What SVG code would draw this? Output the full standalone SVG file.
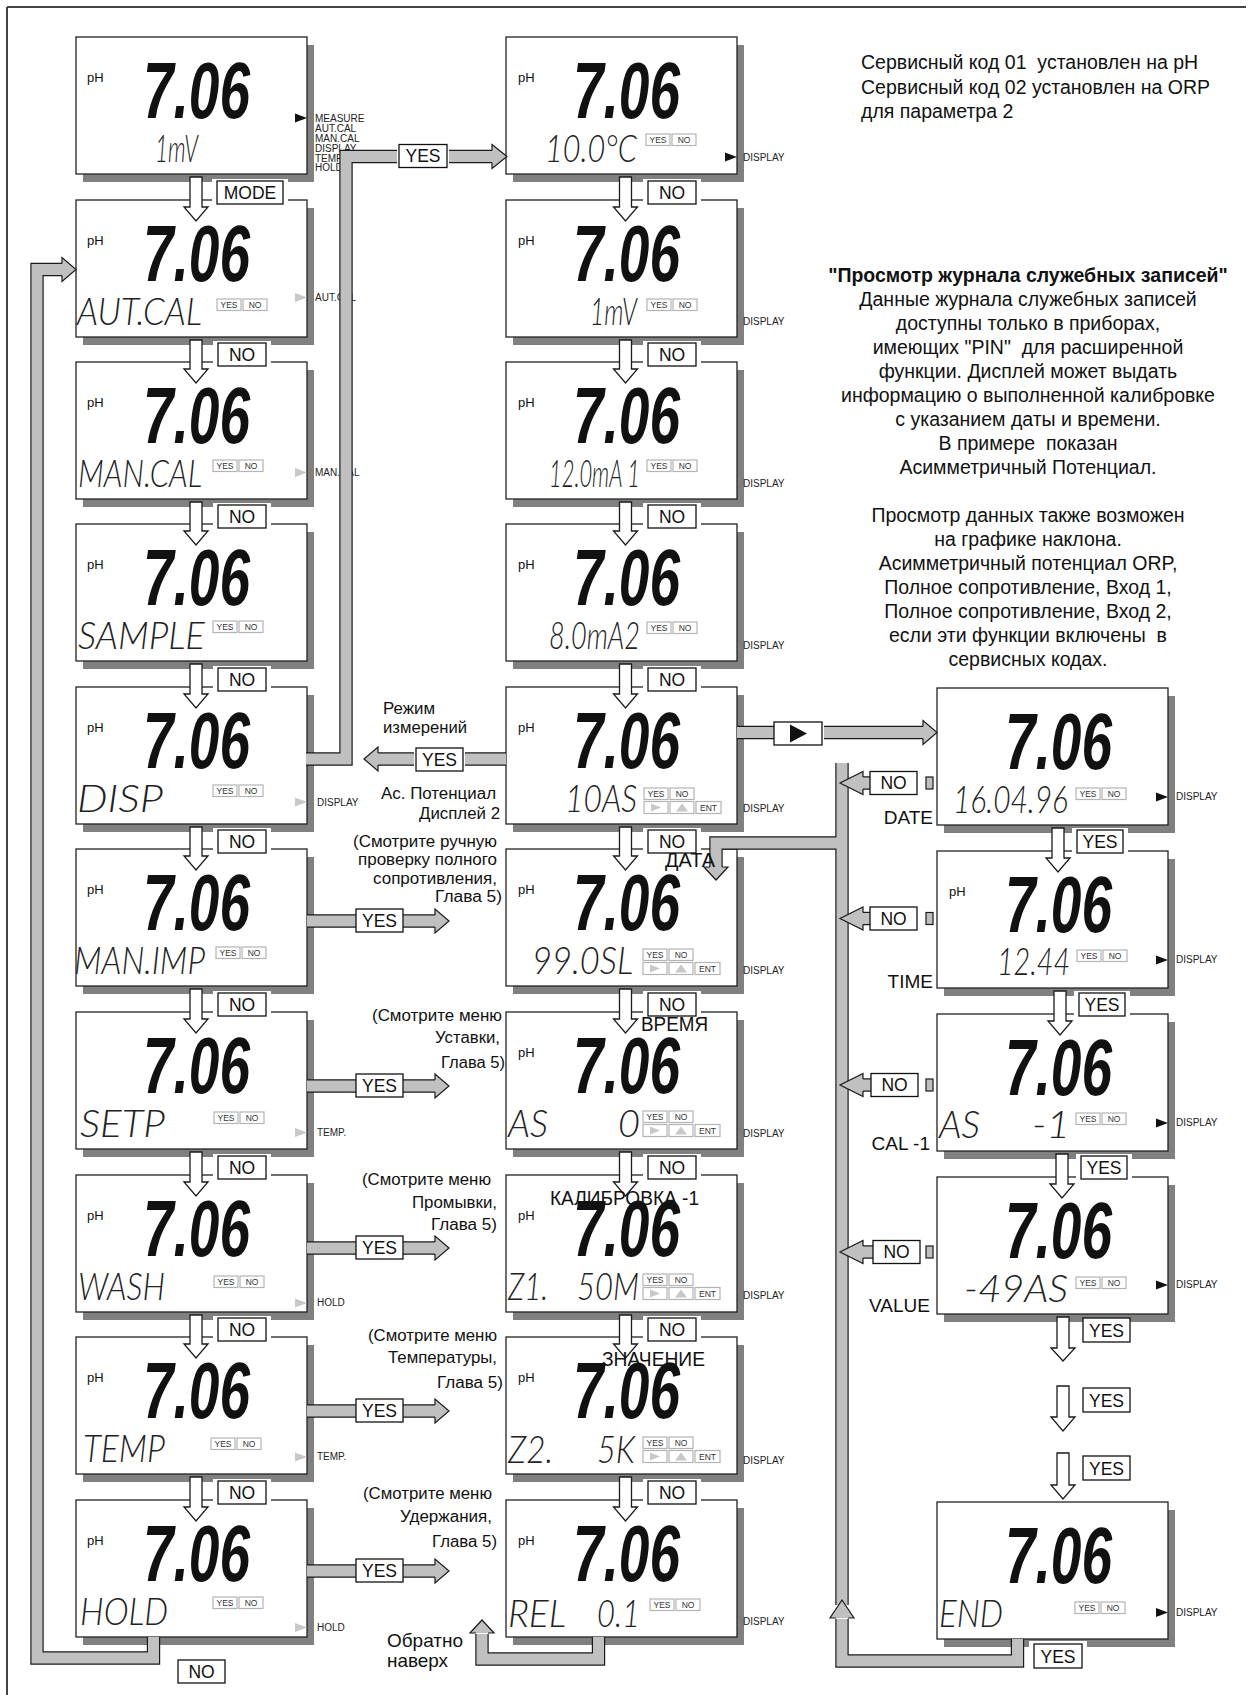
<svg xmlns="http://www.w3.org/2000/svg" width="1252" height="1695" viewBox="0 0 1252 1695">
<style>
.big{font-family:'Liberation Sans',Arial,sans-serif;font-weight:bold;font-style:italic;font-size:80px;fill:#111}
.seg{font-family:Lato,'DejaVu Sans',sans-serif;font-weight:300;font-style:italic;font-size:38px;fill:#222}
.ph{font-family:'Liberation Sans',Arial,sans-serif;font-size:13px;fill:#111}
.side{font-family:'Liberation Sans',Arial,sans-serif;font-size:10px;fill:#222}
.sb{fill:#fff;stroke:#b4b4b4;stroke-width:1.2}
.st{font-family:'Liberation Sans',Arial,sans-serif;font-size:8.5px;fill:#333;text-anchor:middle}
.bo{fill:none;stroke:#1a1a1a;stroke-width:13.4;stroke-linejoin:miter}
.bi{fill:none;stroke:#c0c0c0;stroke-width:11;stroke-linejoin:miter}
.hd{fill:#c0c0c0;stroke:#1a1a1a;stroke-width:1.2;stroke-linejoin:miter}
.wa{fill:#fff;stroke:#1a1a1a;stroke-width:1.3;stroke-linejoin:miter}
.lb{fill:#fff;stroke:#111;stroke-width:1.3}
.pad{fill:#fff;stroke:none}
.lt{font-family:'Liberation Sans',Arial,sans-serif;font-size:17.5px;fill:#111;text-anchor:middle}
.note{font-family:'Liberation Sans',Arial,sans-serif;font-size:16px;fill:#111}
.info{font-family:'Liberation Sans',Arial,sans-serif;font-size:19.5px;fill:#111;white-space:pre}
.ctr{text-anchor:middle}
.ov{font-family:'Liberation Sans',Arial,sans-serif;font-size:19.5px;fill:#111}
.rl{font-family:'Liberation Sans',Arial,sans-serif;font-size:19px;fill:#111;text-anchor:end}
</style>
<defs>
<g id="lcd"><rect x="7" y="8" width="231" height="137" fill="#808080"/><rect x="0" y="0" width="231" height="137" fill="#fff" stroke="#222" stroke-width="1.3"/></g>
<g id="yn"><rect x="0" y="0" width="24" height="11.5" class="sb"/><rect x="26" y="0" width="24" height="11.5" class="sb"/><text x="12" y="9.2" class="st">YES</text><text x="38" y="9.2" class="st">NO</text></g>
<g id="yn2"><use href="#yn"/><rect x="0" y="13.5" width="24" height="12" class="sb"/><polygon points="7,15.5 17,19.5 7,23.5" fill="#c8c8c8"/><rect x="26" y="13.5" width="24" height="12" class="sb"/><polygon points="32,23.5 38,15.5 44,23.5" fill="#c8c8c8"/><rect x="52" y="13.5" width="25" height="12" class="sb"/><text x="64.5" y="22.8" class="st">ENT</text></g>
<polygon id="triK" points="-12,-4.5 0,0 -12,4.5" fill="#111"/>
<polygon id="triG" points="-12,-4.5 0,0 -12,4.5" fill="#c8c8c8"/>
<path id="b1" d="M306,759 H346 V156.5 H397 M449,156.5 H493"/>
<path id="b2" d="M153.5,1637 V1658 H37 V269.5 H63"/>
<path id="b3" d="M506,759 H465 M414,759 H377"/>
<path id="b4" d="M737,732.5 H774 M824,732.5 H924"/>
<path id="b6" d="M842,763 V1605 M1017.5,1639 V1661 H842 V1619"/>
<path id="b7" d="M842,843 H716 V868"/>
<path id="b8" d="M598.5,1637 V1659 H482 V1634"/>
<path id="b9" d="M307,921 H356 M403,921 H436 M307,1086 H356 M403,1086 H436 M307,1248 H356 M403,1248 H436 M307,1411 H356 M403,1411 H436 M307,1571 H356 M403,1571 H436"/>
<path id="b5" d="M870,783 H862 M870,918.5 H862 M871,1085 H862 M873,1252 H862"/>
</defs>

<rect width="1252" height="1695" fill="#fff"/>
<path d="M7,7 H1246 M7,7 V1695" fill="none" stroke="#444" stroke-width="2"/>

<g id="L1"><use href="#lcd" x="76" y="37"/><text class="ph" x="87" y="82">pH</text><text class="big" x="143" y="118" textLength="107" lengthAdjust="spacingAndGlyphs">7.06</text><text class="seg" x="155" y="162" textLength="43" lengthAdjust="spacingAndGlyphs">1mV</text><use href="#triK" x="307" y="118"/>
<text class="side" x="315" y="122">MEASURE</text><text class="side" x="315" y="132">AUT.CAL</text><text class="side" x="315" y="142">MAN.CAL</text><text class="side" x="315" y="152">DISPLAY</text><text class="side" x="315" y="162">TEMP.</text><text class="side" x="315" y="171">HOLD</text></g>
<g id="L2"><use href="#lcd" x="76" y="200"/><text class="ph" x="87" y="245">pH</text><text class="big" x="143" y="281" textLength="107" lengthAdjust="spacingAndGlyphs">7.06</text><text class="seg" x="77" y="325" textLength="125" lengthAdjust="spacingAndGlyphs">AUT.CAL</text><use href="#yn" x="217" y="299"/><use href="#triG" x="307" y="297.5"/><text class="side" x="315" y="301">AUT.CAL</text></g>
<g id="L3"><use href="#lcd" x="76" y="362"/><text class="ph" x="87" y="407">pH</text><text class="big" x="143" y="443" textLength="107" lengthAdjust="spacingAndGlyphs">7.06</text><text class="seg" x="78" y="487" textLength="124" lengthAdjust="spacingAndGlyphs">MAN.CAL</text><use href="#yn" x="213" y="460"/><use href="#triG" x="307" y="472.5"/><text class="side" x="315" y="476">MAN.CAL</text></g>
<g id="L4"><use href="#lcd" x="76" y="524"/><text class="ph" x="87" y="569">pH</text><text class="big" x="143" y="605" textLength="107" lengthAdjust="spacingAndGlyphs">7.06</text><text class="seg" x="78" y="649" textLength="127" lengthAdjust="spacingAndGlyphs">SAMPLE</text><use href="#yn" x="213" y="621"/></g>
<g id="L5"><use href="#lcd" x="76" y="687"/><text class="ph" x="87" y="732">pH</text><text class="big" x="143" y="768" textLength="107" lengthAdjust="spacingAndGlyphs">7.06</text><text class="seg" x="77" y="812" textLength="86" lengthAdjust="spacingAndGlyphs">DISP</text><use href="#yn" x="213" y="785"/><use href="#triG" x="307" y="802"/><text class="side" x="317" y="806">DISPLAY</text></g>
<g id="L6"><use href="#lcd" x="76" y="849"/><text class="ph" x="87" y="894">pH</text><text class="big" x="143" y="930" textLength="107" lengthAdjust="spacingAndGlyphs">7.06</text><text class="seg" x="74" y="974" textLength="131" lengthAdjust="spacingAndGlyphs">MAN.IMP</text><use href="#yn" x="216" y="947"/></g>
<g id="L7"><use href="#lcd" x="76" y="1012"/><text class="big" x="143" y="1093" textLength="107" lengthAdjust="spacingAndGlyphs">7.06</text><text class="seg" x="80" y="1137" textLength="85" lengthAdjust="spacingAndGlyphs">SETP</text><use href="#yn" x="214" y="1112"/><use href="#triG" x="307" y="1132.5"/><text class="side" x="317" y="1136">TEMP.</text></g>
<g id="L8"><use href="#lcd" x="76" y="1175"/><text class="ph" x="87" y="1220">pH</text><text class="big" x="143" y="1256" textLength="107" lengthAdjust="spacingAndGlyphs">7.06</text><text class="seg" x="78" y="1300" textLength="87" lengthAdjust="spacingAndGlyphs">WASH</text><use href="#yn" x="214" y="1276"/><use href="#triG" x="307" y="1303"/><text class="side" x="317" y="1306">HOLD</text></g>
<g id="L9"><use href="#lcd" x="76" y="1337"/><text class="ph" x="87" y="1382">pH</text><text class="big" x="143" y="1418" textLength="107" lengthAdjust="spacingAndGlyphs">7.06</text><text class="seg" x="83" y="1462" textLength="82" lengthAdjust="spacingAndGlyphs">TEMP</text><use href="#yn" x="211" y="1438"/><use href="#triG" x="307" y="1457"/><text class="side" x="317" y="1460">TEMP.</text></g>
<g id="L10"><use href="#lcd" x="76" y="1500"/><text class="ph" x="87" y="1545">pH</text><text class="big" x="143" y="1581" textLength="107" lengthAdjust="spacingAndGlyphs">7.06</text><text class="seg" x="80" y="1625" textLength="88" lengthAdjust="spacingAndGlyphs">HOLD</text><use href="#yn" x="213" y="1597"/><use href="#triG" x="307" y="1627.5"/><text class="side" x="317" y="1631">HOLD</text></g>

<g id="M1"><use href="#lcd" x="506" y="37"/><text class="ph" x="518" y="82">pH</text><text class="big" x="573" y="118" textLength="107" lengthAdjust="spacingAndGlyphs">7.06</text><text class="seg" x="545" y="162" textLength="92" lengthAdjust="spacingAndGlyphs">10.0°C</text><use href="#yn" x="646" y="134"/><use href="#triK" x="737" y="157"/><text class="side" x="743" y="161">DISPLAY</text></g>
<g id="M2"><use href="#lcd" x="506" y="200"/><text class="ph" x="518" y="245">pH</text><text class="big" x="573" y="281" textLength="107" lengthAdjust="spacingAndGlyphs">7.06</text><text class="seg" x="590" y="325" textLength="47" lengthAdjust="spacingAndGlyphs">1mV</text><use href="#yn" x="647" y="299"/><text class="side" x="743" y="325">DISPLAY</text></g>
<g id="M3"><use href="#lcd" x="506" y="362"/><text class="ph" x="518" y="407">pH</text><text class="big" x="573" y="443" textLength="107" lengthAdjust="spacingAndGlyphs">7.06</text><text class="seg" x="549" y="487" textLength="91" lengthAdjust="spacingAndGlyphs">12.0mA 1</text><use href="#yn" x="647" y="460"/><text class="side" x="743" y="487">DISPLAY</text></g>
<g id="M4"><use href="#lcd" x="506" y="524"/><text class="ph" x="518" y="569">pH</text><text class="big" x="573" y="605" textLength="107" lengthAdjust="spacingAndGlyphs">7.06</text><text class="seg" x="549" y="649" textLength="91" lengthAdjust="spacingAndGlyphs">8.0mA2</text><use href="#yn" x="647" y="622"/><text class="side" x="743" y="649">DISPLAY</text></g>
<g id="M5"><use href="#lcd" x="506" y="687"/><text class="ph" x="518" y="732">pH</text><text class="big" x="573" y="768" textLength="107" lengthAdjust="spacingAndGlyphs">7.06</text><text class="seg" x="565" y="812" textLength="72" lengthAdjust="spacingAndGlyphs">10AS</text><use href="#yn2" x="644" y="788"/><text class="side" x="743" y="812">DISPLAY</text></g>
<g id="M6"><use href="#lcd" x="506" y="849"/><text class="ph" x="518" y="894">pH</text><text class="big" x="573" y="930" textLength="107" lengthAdjust="spacingAndGlyphs">7.06</text><text class="seg" x="532" y="974" textLength="101" lengthAdjust="spacingAndGlyphs">99.0SL</text><use href="#yn2" x="643" y="949"/><text class="side" x="743" y="974">DISPLAY</text></g>
<g id="M7"><use href="#lcd" x="506" y="1012"/><text class="ph" x="518" y="1057">pH</text><text class="big" x="573" y="1093" textLength="107" lengthAdjust="spacingAndGlyphs">7.06</text><text class="seg" x="508" y="1137" textLength="40" lengthAdjust="spacingAndGlyphs">AS</text><text class="seg" x="618" y="1137" textLength="22" lengthAdjust="spacingAndGlyphs">0</text><use href="#yn2" x="643" y="1111"/><text class="side" x="743" y="1137">DISPLAY</text></g>
<g id="M8"><use href="#lcd" x="506" y="1175"/><text class="ph" x="518" y="1220">pH</text><text class="big" x="573" y="1256" textLength="107" lengthAdjust="spacingAndGlyphs">7.06</text><text class="seg" x="508" y="1300" textLength="40" lengthAdjust="spacingAndGlyphs">Z1.</text><text class="seg" x="577" y="1300" textLength="62" lengthAdjust="spacingAndGlyphs">50M</text><use href="#yn2" x="643" y="1274"/><text class="side" x="743" y="1299">DISPLAY</text></g>
<g id="M9"><use href="#lcd" x="506" y="1337"/><text class="ph" x="518" y="1382">pH</text><text class="big" x="573" y="1418" textLength="107" lengthAdjust="spacingAndGlyphs">7.06</text><text class="seg" x="508" y="1463" textLength="45" lengthAdjust="spacingAndGlyphs">Z2.</text><text class="seg" x="597" y="1463" textLength="38" lengthAdjust="spacingAndGlyphs">5K</text><use href="#yn2" x="643" y="1437"/><text class="side" x="743" y="1464">DISPLAY</text></g>
<g id="M10"><use href="#lcd" x="506" y="1500"/><text class="ph" x="518" y="1545">pH</text><text class="big" x="573" y="1581" textLength="107" lengthAdjust="spacingAndGlyphs">7.06</text><text class="seg" x="508" y="1627" textLength="58" lengthAdjust="spacingAndGlyphs">REL</text><text class="seg" x="597" y="1627" textLength="43" lengthAdjust="spacingAndGlyphs">0.1</text><use href="#yn" x="650" y="1599"/><text class="side" x="743" y="1625">DISPLAY</text></g>

<g id="R1"><use href="#lcd" x="937" y="688"/><text class="big" x="1005" y="769" textLength="107" lengthAdjust="spacingAndGlyphs">7.06</text><text class="seg" x="953" y="813" textLength="115" lengthAdjust="spacingAndGlyphs">16.04.96</text><use href="#yn" x="1076" y="788"/><use href="#triK" x="1168" y="797"/><text class="side" x="1176" y="800">DISPLAY</text></g>
<g id="R2"><use href="#lcd" x="937" y="851"/><text class="ph" x="949" y="896">pH</text><text class="big" x="1005" y="932" textLength="107" lengthAdjust="spacingAndGlyphs">7.06</text><text class="seg" x="997" y="975" textLength="73" lengthAdjust="spacingAndGlyphs">12.44</text><use href="#yn" x="1077" y="950"/><use href="#triK" x="1168" y="960"/><text class="side" x="1176" y="963">DISPLAY</text></g>
<g id="R3"><use href="#lcd" x="937" y="1014"/><text class="big" x="1005" y="1095" textLength="107" lengthAdjust="spacingAndGlyphs">7.06</text><text class="seg" x="939" y="1138" textLength="41" lengthAdjust="spacingAndGlyphs">AS</text><text class="seg" x="1032" y="1138" textLength="38" lengthAdjust="spacingAndGlyphs">-1</text><use href="#yn" x="1076" y="1113"/><use href="#triK" x="1168" y="1123"/><text class="side" x="1176" y="1126">DISPLAY</text></g>
<g id="R4"><use href="#lcd" x="937" y="1177"/><text class="big" x="1005" y="1258" textLength="107" lengthAdjust="spacingAndGlyphs">7.06</text><text class="seg" x="964" y="1302" textLength="104" lengthAdjust="spacingAndGlyphs">-49AS</text><use href="#yn" x="1076" y="1277"/><use href="#triK" x="1168" y="1285"/><text class="side" x="1176" y="1288">DISPLAY</text></g>
<g id="R5"><use href="#lcd" x="937" y="1502"/><text class="big" x="1005" y="1583" textLength="107" lengthAdjust="spacingAndGlyphs">7.06</text><text class="seg" x="939" y="1627" textLength="64" lengthAdjust="spacingAndGlyphs">END</text><use href="#yn" x="1075" y="1602"/><use href="#triK" x="1168" y="1612.5"/><text class="side" x="1176" y="1616">DISPLAY</text></g>

<g id="connectors">
<use href="#b1" class="bo"/><use href="#b2" class="bo"/><use href="#b3" class="bo"/><use href="#b4" class="bo"/><use href="#b6" class="bo"/><use href="#b7" class="bo"/><use href="#b8" class="bo"/><use href="#b9" class="bo"/><use href="#b5" class="bo"/>
<use href="#b1" class="bi"/><use href="#b2" class="bi"/><use href="#b3" class="bi"/><use href="#b4" class="bi"/><use href="#b6" class="bi"/><use href="#b7" class="bi"/><use href="#b8" class="bi"/><use href="#b9" class="bi"/><use href="#b5" class="bi"/>
<path class="hd" d="M492,150.5 V144.5 L507,156.5 L492,168.5 V162.5"/>
<path class="hd" d="M62,263.5 V257.5 L76,269.5 L62,281.5 V275.5"/>
<path class="hd" d="M378,753 V747 L364,759 L378,771 V765"/>
<path class="hd" d="M923,726.5 V720.5 L937,732.5 L923,744.5 V738.5"/>
<path class="hd" d="M863,777 V771.5 L840,783 L863,794.5 V789"/>
<path class="hd" d="M863,912.5 V907 L840,918.5 L863,930 V924.5"/>
<path class="hd" d="M863,1079 V1073.5 L840,1085 L863,1096.5 V1091"/>
<path class="hd" d="M863,1246 V1240.5 L840,1252 L863,1263.5 V1258"/>
<path class="hd" d="M836,1618 H830 L842,1600 L854,1618 H848"/>
<path class="hd" d="M710,867 H704 L716,880 L728,867 H722"/>
<path class="hd" d="M476,1633 H470 L482,1620 L494,1633 H488"/>
<path class="hd" d="M435,915 V909 L449,921 L435,933 V927"/>
<path class="hd" d="M435,1080 V1074 L449,1086 L435,1098 V1092"/>
<path class="hd" d="M435,1242 V1236 L449,1248 L435,1260 V1254"/>
<path class="hd" d="M435,1405 V1399 L449,1411 L435,1423 V1417"/>
<path class="hd" d="M435,1565 V1559 L449,1571 L435,1583 V1577"/>
<rect class="hd" x="926" y="777" width="7" height="12"/>
<rect class="hd" x="926" y="912.5" width="7" height="12"/>
<rect class="hd" x="926" y="1079" width="7" height="12"/>
<rect class="hd" x="926" y="1246" width="7" height="12"/>

<rect class="pad" x="212" y="179" width="76" height="27"/>
<rect class="pad" x="213" y="341" width="58" height="27"/><rect class="pad" x="213" y="503" width="58" height="27"/><rect class="pad" x="213" y="666" width="58" height="27"/><rect class="pad" x="213" y="828" width="58" height="27"/><rect class="pad" x="213" y="991" width="58" height="27"/><rect class="pad" x="213" y="1154" width="58" height="27"/><rect class="pad" x="213" y="1316" width="58" height="27"/><rect class="pad" x="213" y="1479" width="58" height="27"/>
<rect class="pad" x="643" y="179" width="58" height="27"/><rect class="pad" x="643" y="341" width="58" height="27"/><rect class="pad" x="643" y="503" width="58" height="27"/><rect class="pad" x="643" y="666" width="58" height="27"/><rect class="pad" x="643" y="828" width="58" height="27"/><rect class="pad" x="643" y="991" width="58" height="27"/><rect class="pad" x="643" y="1154" width="58" height="27"/><rect class="pad" x="643" y="1316" width="58" height="27"/><rect class="pad" x="643" y="1479" width="58" height="27"/>
<rect class="pad" x="1072" y="828" width="56" height="27"/><rect class="pad" x="1074" y="991" width="56" height="27"/><rect class="pad" x="1076" y="1154" width="56" height="27"/><rect class="pad" x="1029" y="1641" width="58" height="30"/>

<polygon class="wa" points="190,177 202,177 202,207 208,207 196,221 184,207 190,207"/>
<polygon class="wa" points="190,340 202,340 202,369 208,369 196,383 184,369 190,369"/>
<polygon class="wa" points="190,502 202,502 202,531 208,531 196,545 184,531 190,531"/>
<polygon class="wa" points="190,664 202,664 202,694 208,694 196,708 184,694 190,694"/>
<polygon class="wa" points="190,827 202,827 202,856 208,856 196,870 184,856 190,856"/>
<polygon class="wa" points="190,989 202,989 202,1019 208,1019 196,1033 184,1019 190,1019"/>
<polygon class="wa" points="190,1152 202,1152 202,1182 208,1182 196,1196 184,1182 190,1182"/>
<polygon class="wa" points="190,1315 202,1315 202,1344 208,1344 196,1358 184,1344 190,1344"/>
<polygon class="wa" points="190,1477 202,1477 202,1507 208,1507 196,1521 184,1507 190,1507"/>
<polygon class="wa" points="619.5,177 631.5,177 631.5,207 637.5,207 625.5,221 613.5,207 619.5,207"/>
<polygon class="wa" points="619.5,340 631.5,340 631.5,369 637.5,369 625.5,383 613.5,369 619.5,369"/>
<polygon class="wa" points="619.5,502 631.5,502 631.5,531 637.5,531 625.5,545 613.5,531 619.5,531"/>
<polygon class="wa" points="619.5,664 631.5,664 631.5,694 637.5,694 625.5,708 613.5,694 619.5,694"/>
<polygon class="wa" points="619.5,827 631.5,827 631.5,856 637.5,856 625.5,870 613.5,856 619.5,856"/>
<polygon class="wa" points="619.5,989 631.5,989 631.5,1019 637.5,1019 625.5,1033 613.5,1019 619.5,1019"/>
<polygon class="wa" points="619.5,1152 631.5,1152 631.5,1182 637.5,1182 625.5,1196 613.5,1182 619.5,1182"/>
<polygon class="wa" points="619.5,1315 631.5,1315 631.5,1344 637.5,1344 625.5,1358 613.5,1344 619.5,1344"/>
<polygon class="wa" points="619.5,1477 631.5,1477 631.5,1507 637.5,1507 625.5,1521 613.5,1507 619.5,1507"/>
<polygon class="wa" points="1052,828 1064,828 1064,858 1070,858 1058,872 1046,858 1052,858"/>
<polygon class="wa" points="1054,991 1066,991 1066,1021 1072,1021 1060,1035 1048,1021 1054,1021"/>
<polygon class="wa" points="1056,1154 1068,1154 1068,1184 1074,1184 1062,1198 1050,1184 1056,1184"/>
<polygon class="wa" points="1057,1317 1069,1317 1069,1348 1075,1348 1063,1361 1051,1348 1057,1348"/>
<polygon class="wa" points="1057,1386 1069,1386 1069,1417 1075,1417 1063,1431 1051,1417 1057,1417"/>
<polygon class="wa" points="1057,1453 1069,1453 1069,1485 1075,1485 1063,1499 1051,1485 1057,1485"/>

<rect class="lb" x="217" y="181" width="66" height="23"/><text class="lt" x="250" y="198.5">MODE</text>
<rect class="lb" x="218" y="343" width="48" height="23"/><text class="lt" x="242" y="360.5">NO</text>
<rect class="lb" x="218" y="505" width="48" height="23"/><text class="lt" x="242" y="522.5">NO</text>
<rect class="lb" x="218" y="668" width="48" height="23"/><text class="lt" x="242" y="685.5">NO</text>
<rect class="lb" x="218" y="830" width="48" height="23"/><text class="lt" x="242" y="847.5">NO</text>
<rect class="lb" x="218" y="993" width="48" height="23"/><text class="lt" x="242" y="1010.5">NO</text>
<rect class="lb" x="218" y="1156" width="48" height="23"/><text class="lt" x="242" y="1173.5">NO</text>
<rect class="lb" x="218" y="1318" width="48" height="23"/><text class="lt" x="242" y="1335.5">NO</text>
<rect class="lb" x="218" y="1481" width="48" height="23"/><text class="lt" x="242" y="1498.5">NO</text>
<rect class="lb" x="648" y="181" width="48" height="23"/><text class="lt" x="672" y="198.5">NO</text>
<rect class="lb" x="648" y="343" width="48" height="23"/><text class="lt" x="672" y="360.5">NO</text>
<rect class="lb" x="648" y="505" width="48" height="23"/><text class="lt" x="672" y="522.5">NO</text>
<rect class="lb" x="648" y="668" width="48" height="23"/><text class="lt" x="672" y="685.5">NO</text>
<rect class="lb" x="648" y="830" width="48" height="23"/><text class="lt" x="672" y="847.5">NO</text>
<rect class="lb" x="648" y="993" width="48" height="23"/><text class="lt" x="672" y="1010.5">NO</text>
<rect class="lb" x="648" y="1156" width="48" height="23"/><text class="lt" x="672" y="1173.5">NO</text>
<rect class="lb" x="648" y="1318" width="48" height="23"/><text class="lt" x="672" y="1335.5">NO</text>
<rect class="lb" x="648" y="1481" width="48" height="23"/><text class="lt" x="672" y="1498.5">NO</text>
<rect class="lb" x="1077" y="830" width="46" height="23"/><text class="lt" x="1100" y="847.5">YES</text>
<rect class="lb" x="1079" y="993" width="46" height="23"/><text class="lt" x="1102" y="1010.5">YES</text>
<rect class="lb" x="1081" y="1156" width="46" height="23"/><text class="lt" x="1104" y="1173.5">YES</text>
<rect class="lb" x="1083" y="1318" width="47" height="24"/><text class="lt" x="1106.5" y="1336.5">YES</text>
<rect class="lb" x="1083" y="1388" width="47" height="24"/><text class="lt" x="1106.5" y="1406.5">YES</text>
<rect class="lb" x="1083" y="1456" width="47" height="24"/><text class="lt" x="1106.5" y="1474.5">YES</text>
<rect class="lb" x="1034" y="1644" width="48" height="24"/><text class="lt" x="1058" y="1662.5">YES</text>
<rect class="lb" x="399" y="144.5" width="48" height="23"/><text class="lt" x="423" y="162">YES</text>
<rect class="lb" x="178" y="1660" width="47" height="23"/><text class="lt" x="201.5" y="1677.5">NO</text>
<rect class="lb" x="416" y="748" width="47" height="23"/><text class="lt" x="439.5" y="765.5">YES</text>
<rect class="lb" x="774" y="722" width="48" height="23"/><polygon points="790,724.5 807,733.5 790,742.5" fill="#111"/>
<rect class="lb" x="870" y="771.5" width="47" height="23"/><text class="lt" x="893.5" y="789">NO</text>
<rect class="lb" x="870" y="907" width="47" height="23"/><text class="lt" x="893.5" y="924.5">NO</text>
<rect class="lb" x="871" y="1073.5" width="47" height="23"/><text class="lt" x="894.5" y="1091">NO</text>
<rect class="lb" x="873" y="1240.5" width="47" height="23"/><text class="lt" x="896.5" y="1258">NO</text>
<rect class="lb" x="356" y="909" width="47" height="23"/><text class="lt" x="379.5" y="926.5">YES</text>
<rect class="lb" x="356" y="1074" width="47" height="23"/><text class="lt" x="379.5" y="1091.5">YES</text>
<rect class="lb" x="356" y="1236" width="47" height="23"/><text class="lt" x="379.5" y="1253.5">YES</text>
<rect class="lb" x="356" y="1399" width="47" height="23"/><text class="lt" x="379.5" y="1416.5">YES</text>
<rect class="lb" x="356" y="1559" width="47" height="23"/><text class="lt" x="379.5" y="1576.5">YES</text>
</g>

<g id="notes">
<text class="note" x="383" y="714" textLength="52" lengthAdjust="spacingAndGlyphs">Режим</text>
<text class="note" x="383" y="733" textLength="84" lengthAdjust="spacingAndGlyphs">измерений</text>
<text class="note" x="381" y="799" textLength="115" lengthAdjust="spacingAndGlyphs">Ас. Потенциал</text>
<text class="note" x="419" y="819" textLength="81" lengthAdjust="spacingAndGlyphs">Дисплей 2</text>
<text class="note" x="353" y="847" textLength="144" lengthAdjust="spacingAndGlyphs">(Смотрите ручную</text>
<text class="note" x="358" y="865" textLength="139" lengthAdjust="spacingAndGlyphs">проверку полного</text>
<text class="note" x="373" y="884" textLength="124" lengthAdjust="spacingAndGlyphs">сопротивления,</text>
<text class="note" x="435" y="902" textLength="67" lengthAdjust="spacingAndGlyphs">Глава 5)</text>
<text class="note" x="372" y="1021" textLength="130" lengthAdjust="spacingAndGlyphs">(Смотрите меню</text>
<text class="note" x="435" y="1043" textLength="65" lengthAdjust="spacingAndGlyphs">Уставки,</text>
<text class="note" x="441" y="1068" textLength="64" lengthAdjust="spacingAndGlyphs">Глава 5)</text>
<text class="note" x="362" y="1185" textLength="129" lengthAdjust="spacingAndGlyphs">(Смотрите меню</text>
<text class="note" x="412" y="1208" textLength="85" lengthAdjust="spacingAndGlyphs">Промывки,</text>
<text class="note" x="431" y="1230" textLength="66" lengthAdjust="spacingAndGlyphs">Глава 5)</text>
<text class="note" x="368" y="1341" textLength="129" lengthAdjust="spacingAndGlyphs">(Смотрите меню</text>
<text class="note" x="388" y="1363" textLength="109" lengthAdjust="spacingAndGlyphs">Температуры,</text>
<text class="note" x="437" y="1388" textLength="66" lengthAdjust="spacingAndGlyphs">Глава 5)</text>
<text class="note" x="363" y="1499" textLength="129" lengthAdjust="spacingAndGlyphs">(Смотрите меню</text>
<text class="note" x="400" y="1522" textLength="92" lengthAdjust="spacingAndGlyphs">Удержания,</text>
<text class="note" x="432" y="1547" textLength="65" lengthAdjust="spacingAndGlyphs">Глава 5)</text>
<text class="note" x="387" y="1647" style="font-size:18.5px" textLength="76" lengthAdjust="spacingAndGlyphs">Обратно</text>
<text class="note" x="387" y="1667" style="font-size:18.5px" textLength="61" lengthAdjust="spacingAndGlyphs">наверх</text>
<text class="rl" x="933" y="824">DATE</text>
<text class="rl" x="933" y="988">TIME</text>
<text class="rl" x="930" y="1150">CAL -1</text>
<text class="rl" x="930" y="1312">VALUE</text>
<text class="ov" x="665" y="867" textLength="50" lengthAdjust="spacingAndGlyphs">ДАТА</text>
<text class="ov" x="641" y="1031" textLength="67" lengthAdjust="spacingAndGlyphs">ВРЕМЯ</text>
<text class="ov" x="550" y="1205" textLength="149" lengthAdjust="spacingAndGlyphs">КАЛИБРОВКА -1</text>
<text class="ov" x="602" y="1366" textLength="103" lengthAdjust="spacingAndGlyphs">ЗНАЧЕНИЕ</text>
</g>

<g id="info">
<text class="info" x="861" y="69">Сервисный код 01  установлен на pH</text>
<text class="info" x="861" y="93.5">Сервисный код 02 установлен на ORP</text>
<text class="info" x="861" y="118">для параметра 2</text>
<text class="info ctr" x="1028" y="282" font-weight="bold">"Просмотр журнала служебных записей"</text>
<text class="info ctr" x="1028" y="306">Данные журнала служебных записей</text>
<text class="info ctr" x="1028" y="330">доступны только в приборах,</text>
<text class="info ctr" x="1028" y="354">имеющих "PIN"  для расширенной</text>
<text class="info ctr" x="1028" y="378">функции. Дисплей может выдать</text>
<text class="info ctr" x="1028" y="402">информацию о выполненной калибровке</text>
<text class="info ctr" x="1028" y="426">с указанием даты и времени.</text>
<text class="info ctr" x="1028" y="450">В примере  показан</text>
<text class="info ctr" x="1028" y="474">Асимметричный Потенциал.</text>
<text class="info ctr" x="1028" y="522">Просмотр данных также возможен</text>
<text class="info ctr" x="1028" y="546">на графике наклона.</text>
<text class="info ctr" x="1028" y="570">Асимметричный потенциал ORP,</text>
<text class="info ctr" x="1028" y="594">Полное сопротивление, Вход 1,</text>
<text class="info ctr" x="1028" y="618">Полное сопротивление, Вход 2,</text>
<text class="info ctr" x="1028" y="642">если эти функции включены  в</text>
<text class="info ctr" x="1028" y="666">сервисных кодах.</text>
</g>
</svg>
